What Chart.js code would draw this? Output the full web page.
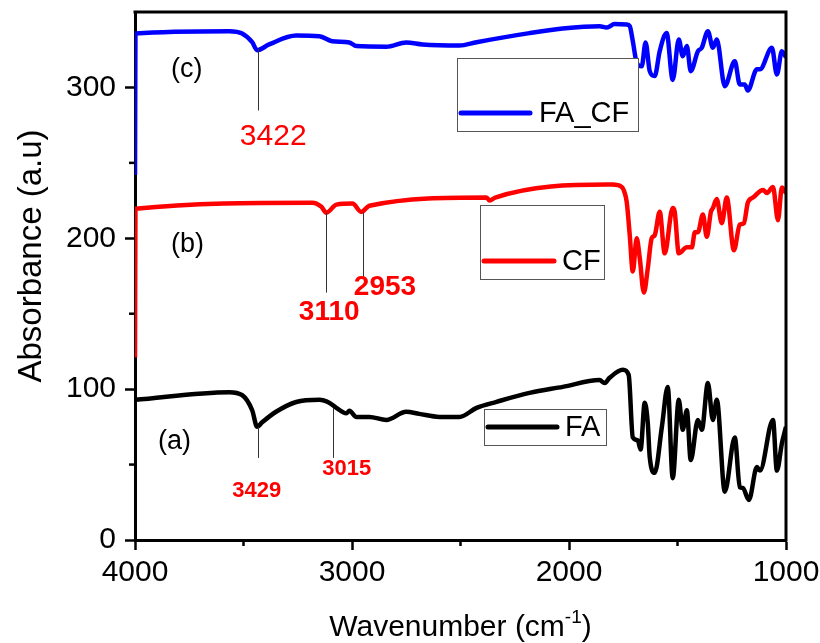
<!DOCTYPE html>
<html>
<head>
<meta charset="utf-8">
<script src="https://cdn.jsdelivr.net/npm/chart.js@4.4.1/dist/chart.umd.min.js"></script>
<style>
body { margin: 0; background: #fff; }
</style>
</head>
<body>
<canvas id="ftirChart" width="820" height="643"></canvas>
<script>
// wavenumbers (cm-1) and absorbance
const faWave = [4000, 3566, 3506, 3460, 3437, 3414, 3350, 3257, 3150, 3105, 3072, 3026, 3012, 2980, 2920, 2842, 2750, 2690, 2597, 2505, 2426, 2334, 2182, 2029, 1859, 1836, 1813, 1752, 1725, 1706, 1683, 1670, 1651, 1637, 1628, 1605, 1572, 1545, 1522, 1494, 1476, 1457, 1439, 1406, 1388, 1360, 1337, 1319, 1282, 1236, 1213, 1199, 1171, 1134, 1120, 1060, 1042, 1019, 1000];
const faAbs = [92.9, 98, 96, 86, 75, 78, 85, 91.5, 93, 91, 87.6, 84, 85.6, 81.6, 81.6, 79.6, 85, 83.6, 81.6, 81.6, 87.6, 91.6, 97.5, 101.5, 106, 104, 107.5, 112.8, 109.5, 68, 66, 60, 91, 77.6, 55, 44.5, 75, 101.5, 41, 93, 73, 86, 53, 79.6, 73, 104, 79.6, 93, 32, 68, 35, 34.5, 26.5, 48.4, 46, 79.6, 46, 64, 75];

const cfWave = [4000, 3998, 3183, 3142, 3118, 3072, 2998, 2957, 2920, 2380, 2366, 2340, 1826, 1800, 1757, 1743, 1734, 1720, 1706, 1688, 1674, 1655, 1637, 1619, 1605, 1582, 1559, 1522, 1513, 1494, 1457, 1434, 1420, 1406, 1383, 1365, 1346, 1337, 1319, 1296, 1273, 1240, 1213, 1194, 1176, 1152, 1106, 1088, 1060, 1037, 1019, 1000];
const cfAbs = [121, 219.6, 223.6, 221, 217, 222.3, 223, 217.5, 221.6, 227, 225, 227, 235.6, 235.6, 234, 230, 224, 202, 178, 200, 187, 164, 180, 200, 202, 217.6, 190, 220, 217.6, 190, 194, 194, 204, 204, 215.7, 201, 217.6, 220, 226, 210, 227, 192, 209, 210, 223.6, 227, 232, 230, 234, 212, 233.6, 230];

const facfWave = [4000, 3998, 3566, 3506, 3460, 3437, 3382, 3257, 3150, 3091, 3012, 2980, 2842, 2750, 2675, 2505, 2426, 2182, 2029, 1859, 1826, 1790, 1734, 1720, 1706, 1688, 1665, 1647, 1628, 1605, 1582, 1550, 1522, 1494, 1476, 1457, 1439, 1406, 1388, 1360, 1337, 1319, 1282, 1236, 1213, 1190, 1176, 1134, 1120, 1065, 1042, 1019, 1000];
const facfAbs = [242, 335.8, 337.3, 335.8, 330, 324.7, 328.5, 334.4, 334, 330.6, 329.8, 327.4, 327, 329.8, 328.5, 327.8, 330, 336, 339, 340.6, 339.7, 342, 341.7, 340.6, 330.7, 316.5, 314, 329.8, 310.8, 307.5, 324, 336, 305, 331.8, 320.7, 327.4, 310.8, 324, 326.3, 337.3, 326.3, 331.8, 300.8, 317.4, 302, 302, 298, 312, 312, 326.3, 308.6, 324, 320];

const xTicks = [4000, 3000, 2000, 1000];
const yTicks = [0, 100, 200, 300];
const xMinor = [3500, 2500, 1500];
const yMinor = [50, 150, 250];

// peak markers: line at wn from y0 to y1, label at (lx, ly)
const peaks = [
  { text: '3422', wn: 3435, y0: 325.6, y1: 284.7, lx: 3363, ly: 267.6, bold: false, size: 30 },
  { text: '3110', wn: 3118, y0: 217, y1: 164, lx: 3105, ly: 151, bold: true, size: 28 },
  { text: '2953', wn: 2948, y0: 217, y1: 174.5, lx: 2848, ly: 167.5, bold: true, size: 28 },
  { text: '3429', wn: 3435, y0: 75, y1: 54.4, lx: 3439, ly: 32.2, bold: true, size: 22 },
  { text: '3015', wn: 3086, y0: 87.6, y1: 54.4, lx: 3024, ly: 47.4, bold: true, size: 22 }
];
const curveTags = [
  { text: '(c)', lx: 3762, ly: 312 },
  { text: '(b)', lx: 3758, ly: 195.7 },
  { text: '(a)', lx: 3818, ly: 65.4 }
];

const FONT = '"Liberation Sans", Arial, sans-serif';

function toPoints(xs, ys) {
  return xs.map((v, i) => ({ x: v, y: ys[i] }));
}

// legend boxes, one per series
const legendBoxes = [
  { label: 'FA_CF', color: '#0000ff', box: [457, 58, 181, 73], lineY: 113, x0: 461, x1: 530, tx: 539 },
  { label: 'CF', color: '#ff0000', box: [480, 205, 124, 74], lineY: 261, x0: 484, x1: 554, tx: 562 },
  { label: 'FA', color: '#000000', box: [484, 409, 122, 36], lineY: 427, x0: 488, x1: 557, tx: 565 }
];

const extras = {
  id: 'extras',
  afterDatasetsDraw(chart) {
    const { ctx, chartArea: a, scales: { x, y } } = chart;
    ctx.save();

    // top and right frame
    ctx.strokeStyle = '#000';
    ctx.lineWidth = 3;
    ctx.beginPath();
    ctx.moveTo(a.left - 1.5, a.top);
    ctx.lineTo(a.right, a.top);
    ctx.lineTo(a.right, a.bottom + 1.5);
    ctx.stroke();

    // minor ticks
    ctx.lineWidth = 2.5;
    xMinor.forEach(v => {
      const px = x.getPixelForValue(v);
      ctx.beginPath(); ctx.moveTo(px, a.bottom); ctx.lineTo(px, a.bottom + 6); ctx.stroke();
    });
    yMinor.forEach(v => {
      const py = y.getPixelForValue(v);
      ctx.beginPath(); ctx.moveTo(a.left, py); ctx.lineTo(a.left - 6, py); ctx.stroke();
    });

    // peak marks
    peaks.forEach(p => {
      const px = x.getPixelForValue(p.wn);
      ctx.strokeStyle = '#333';
      ctx.lineWidth = 1;
      ctx.beginPath();
      ctx.moveTo(Math.round(px) + 0.5, y.getPixelForValue(p.y0));
      ctx.lineTo(Math.round(px) + 0.5, y.getPixelForValue(p.y1));
      ctx.stroke();
      ctx.fillStyle = '#ff0000';
      ctx.font = (p.bold ? 'bold ' : '') + p.size + 'px ' + FONT;
      ctx.textAlign = 'center';
      ctx.textBaseline = 'middle';
      ctx.fillText(p.text, x.getPixelForValue(p.lx), y.getPixelForValue(p.ly));
    });

    curveTags.forEach(t => {
      ctx.fillStyle = '#000';
      ctx.font = '27px ' + FONT;
      ctx.textAlign = 'center';
      ctx.textBaseline = 'middle';
      ctx.fillText(t.text, x.getPixelForValue(t.lx), y.getPixelForValue(t.ly));
    });

    // legends
    legendBoxes.forEach(l => {
      ctx.fillStyle = '#fff';
      ctx.fillRect(l.box[0], l.box[1], l.box[2], l.box[3]);
      ctx.strokeStyle = '#555';
      ctx.lineWidth = 1;
      ctx.strokeRect(l.box[0] + 0.5, l.box[1] + 0.5, l.box[2], l.box[3]);
      ctx.strokeStyle = l.color;
      ctx.lineWidth = 5;
      ctx.lineCap = 'round';
      ctx.beginPath(); ctx.moveTo(l.x0, l.lineY); ctx.lineTo(l.x1, l.lineY); ctx.stroke();
      ctx.fillStyle = '#000';
      ctx.font = '29px ' + FONT;
      ctx.textAlign = 'left';
      ctx.textBaseline = 'middle';
      ctx.fillText(l.label, l.tx, l.lineY + 1);
    });

    // axis titles
    ctx.fillStyle = '#000';
    ctx.font = '33px ' + FONT;
    ctx.textAlign = 'center';
    ctx.textBaseline = 'middle';
    ctx.save();
    ctx.translate(32, 256);
    ctx.rotate(-Math.PI / 2);
    ctx.fillText('Absorbance (a.u)', 0, 0);
    ctx.restore();

    const main = 'Wavenumber (cm';
    const sup = '-1';
    const tail = ')';
    ctx.font = '30px ' + FONT;
    const wMain = ctx.measureText(main).width;
    const wTail = ctx.measureText(tail).width;
    ctx.font = '19px ' + FONT;
    const wSup = ctx.measureText(sup).width;
    const total = wMain + wSup + wTail;
    let sx = (a.left + a.right) / 2 - total / 2;
    const base = 636;
    ctx.textAlign = 'left';
    ctx.textBaseline = 'alphabetic';
    ctx.font = '30px ' + FONT;
    ctx.fillText(main, sx, base);
    ctx.font = '19px ' + FONT;
    ctx.fillText(sup, sx + wMain, base - 13);
    ctx.font = '30px ' + FONT;
    ctx.fillText(tail, sx + wMain + wSup, base);

    ctx.restore();
  }
};

const ctx = document.getElementById('ftirChart').getContext('2d');
const ftirChart = new Chart(ctx, {
  type: 'line',
  data: {
    datasets: [
      { label: 'FA', data: toPoints(faWave, faAbs), borderColor: '#000000' },
      { label: 'CF', data: toPoints(cfWave, cfAbs), borderColor: '#ff0000' },
      { label: 'FA_CF', data: toPoints(facfWave, facfAbs), borderColor: '#0000ff' }
    ]
  },
  options: {
    responsive: false,
    animation: false,
    layout: { padding: { top: 12, right: 34, left: 0, bottom: 0 } },
    plugins: { legend: { display: false }, tooltip: { enabled: false } },
    elements: {
      point: { radius: 0 },
      line: { borderWidth: 4.5, cubicInterpolationMode: 'monotone', fill: false }
    },
    scales: {
      x: {
        type: 'linear',
        reverse: true,
        min: 1000,
        max: 4000,
        afterBuildTicks: s => { s.ticks = xTicks.map(v => ({ value: v })); },
        afterFit: s => { s.height = 103; s.paddingLeft = 0; s.paddingRight = 0; },
        grid: { drawOnChartArea: false, drawTicks: true, tickLength: 10, tickWidth: 2.5, tickColor: '#000' },
        border: { color: '#000', width: 3 },
        ticks: { color: '#000', font: { family: FONT, size: 30 }, padding: 5, maxRotation: 0, autoSkip: false, callback: v => String(v) }
      },
      y: {
        type: 'linear',
        min: 0,
        max: 350,
        afterBuildTicks: s => { s.ticks = yTicks.map(v => ({ value: v })); },
        afterFit: s => { s.width = 135; s.paddingTop = 0; s.paddingBottom = 0; },
        grid: { drawOnChartArea: false, drawTicks: true, tickLength: 10, tickWidth: 2.5, tickColor: '#000' },
        border: { color: '#000', width: 3 },
        ticks: { color: '#000', font: { family: FONT, size: 30 }, padding: 9, callback: v => String(v) }
      }
    }
  },
  plugins: [extras]
});
</script>
</body>
</html>
